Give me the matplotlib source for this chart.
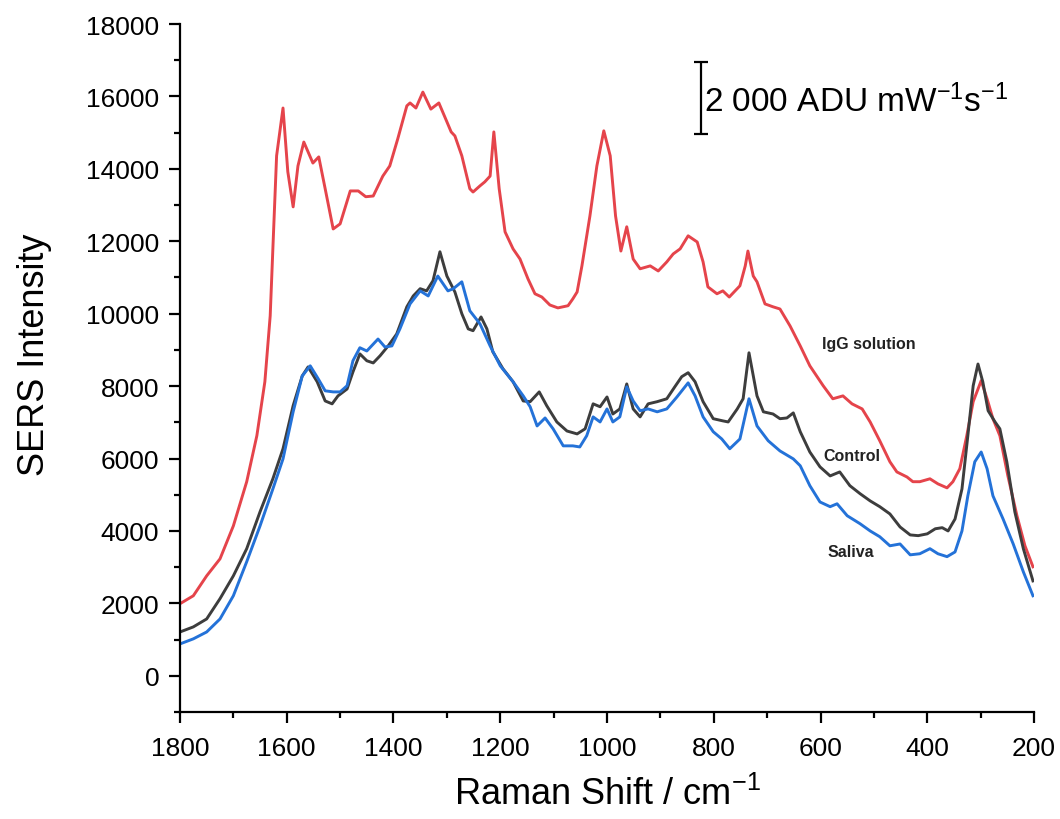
import matplotlib
matplotlib.use("Agg")
from matplotlib import pyplot as plt
from matplotlib.ticker import MultipleLocator

plt.rcParams['font.family'] = ['Liberation Sans', 'DejaVu Sans']

# IgG solution (red)
igg_x = [1800, 1775, 1750, 1725, 1700, 1675, 1656, 1641, 1631, 1626, 1619, 1607, 1598, 1588,
         1579, 1568, 1551, 1540, 1528, 1513, 1500, 1481, 1466, 1452, 1438, 1420, 1407, 1392,
         1375, 1369, 1358, 1345, 1330, 1315, 1300, 1292, 1285, 1272, 1257, 1251, 1238, 1229,
         1219, 1212, 1202, 1191, 1176, 1163, 1148, 1135, 1122, 1107, 1092, 1073, 1064, 1056,
         1047, 1032, 1019, 1006, 994, 984, 974, 963, 951, 938, 919, 904, 888, 876, 863, 848,
         831, 820, 811, 794, 783, 771, 751, 741, 736, 726, 719, 704, 689, 676, 657, 638, 620,
         595, 577, 558, 541, 522, 507, 489, 470, 457, 438, 427, 414, 395, 380, 363, 352, 339,
         326, 314, 299, 288, 277, 264, 249, 232, 217, 202]
igg_y = [1990, 2210, 2760, 3230, 4140, 5360, 6630, 8120, 9940, 11790, 14360, 15680, 13920, 12950,
         14080, 14740, 14160, 14330, 13450, 12340, 12480, 13390, 13390, 13230, 13250, 13800, 14080, 14830,
         15740, 15820, 15680, 16120, 15650, 15820, 15300, 15020, 14910, 14360, 13450, 13360, 13530, 13640,
         13800, 15020, 13450, 12260, 11790, 11510, 10960, 10550, 10460, 10240, 10160, 10220, 10410, 10600,
         11320, 12700, 14080, 15050, 14360, 12700, 11730, 12400, 11510, 11240, 11320, 11180, 11430, 11650, 11790, 12150,
         11980, 11430, 10740, 10550, 10630, 10460, 10770, 11320, 11730, 11040, 10880, 10270, 10190, 10130, 9660, 9110, 8560,
         8010, 7650, 7730, 7510, 7370, 7010, 6490, 5910, 5630, 5490, 5360, 5360, 5440, 5300, 5190, 5360, 5720,
         6630, 7570, 8150, 7650, 7100, 6630, 5520, 4420, 3590, 3010]

# Control (dark grey)
ctrl_x = [1800, 1775, 1750, 1725, 1700, 1675, 1650, 1626, 1607, 1588, 1571, 1560, 1543, 1528,
          1515, 1504, 1487, 1476, 1463, 1450, 1438, 1425, 1410, 1394, 1375, 1363, 1350, 1338,
          1326, 1313, 1300, 1285, 1272, 1260, 1251, 1236, 1225, 1214, 1195, 1176, 1157, 1144,
          1127, 1113, 1094, 1075, 1056, 1041, 1026, 1013, 1000, 989, 976, 963, 951, 938, 923,
          906, 888, 873, 860, 848, 835, 820, 801, 783, 773, 756, 745, 734, 719, 707, 689, 676,
          663, 651, 638, 620, 601, 582, 564, 545, 526, 507, 489, 470, 451, 432, 417, 400, 385,
          372, 361, 348, 335, 324, 314, 305, 296, 286, 273, 264, 251, 236, 220, 202]
ctrl_y = [1210, 1350, 1570, 2130, 2760, 3510, 4530, 5440, 6270, 7460, 8280, 8530, 8120, 7590,
          7510, 7730, 7920, 8390, 8890, 8700, 8640, 8840, 9110, 9440, 10190, 10490, 10690, 10630,
          10910, 11710, 11040, 10600, 10000, 9580, 9530, 9910, 9580, 8950, 8480, 8120, 7590, 7570,
          7840, 7460, 7010, 6760, 6680, 6820, 7510, 7430, 7700, 7230, 7370, 8060, 7370, 7150, 7510,
          7570, 7650, 7980, 8260, 8370, 8120, 7570, 7100, 7040, 7010, 7370, 7650, 8920, 7730, 7290, 7230, 7100,
          7120, 7260, 6740, 6180, 5770, 5520, 5630, 5250, 5030, 4830, 4670, 4470, 4110, 3890, 3870, 3920, 4060,
          4090, 4000, 4330, 5160, 6630, 8010, 8610, 8120, 7320, 7010, 6820, 5910, 4530, 3510, 2620]

# Saliva (blue)
sal_x = [1800, 1775, 1750, 1725, 1700, 1675, 1650, 1626, 1607, 1588, 1571, 1556, 1541, 1528,
         1513, 1500, 1487, 1476, 1463, 1450, 1429, 1416, 1403, 1388, 1369, 1350, 1335, 1317,
         1298, 1288, 1272, 1257, 1238, 1219, 1200, 1176, 1157, 1144, 1131, 1116, 1101, 1082,
         1064, 1051, 1038, 1026, 1013, 1000, 989, 976, 963, 951, 938, 923, 906, 888, 869, 848,
         835, 820, 801, 785, 770, 751, 734, 719, 698, 676, 651, 638, 620, 601, 582, 569, 550,
         526, 507, 489, 470, 451, 432, 414, 395, 380, 363, 348, 335, 324, 311, 299, 288, 277,
         258, 239, 220, 202]
sal_y = [880, 1020, 1210, 1570, 2210, 3150, 4140, 5160, 5990, 7290, 8280, 8560, 8200, 7870,
         7840, 7840, 8010, 8700, 9060, 8970, 9300, 9080, 9110, 9580, 10270, 10630, 10490, 11040,
         10630, 10690, 10880, 10080, 9720, 9110, 8560, 8120, 7730, 7430, 6900, 7120, 6820, 6350,
         6350, 6320, 6630, 7150, 7010, 7370, 7010, 7150, 7980, 7590, 7320, 7370, 7290, 7370, 7700, 8090,
         7730, 7150, 6740, 6540, 6270, 6540, 7650, 6900, 6490, 6210, 5990, 5800, 5250, 4800, 4670, 4750, 4420,
         4200, 4000, 3840, 3590, 3640, 3340, 3370, 3510, 3370, 3290, 3420, 4000, 4970, 5910, 6180, 5720, 4970,
         4330, 3640, 2870, 2210]

series_names = ['IgG solution', 'Control', 'Saliva']
label_pos = [(597, 9170), (595, 6070), (586, 3420)]
scale_bar_x = 824
scale_bar_center = 15950
scale_bar_half = 1000

fig = plt.figure(figsize=(10.6, 8.2), dpi=100)
ax = fig.add_axes([0.1698, 0.1305, 0.8057, 0.839])

ax.plot(igg_x, igg_y, color='#e5444b', lw=2.1, solid_joinstyle='round')
ax.plot(ctrl_x, ctrl_y, color='#3d3d3d', lw=2.1, solid_joinstyle='round')
ax.plot(sal_x, sal_y, color='#2472d8', lw=2.1, solid_joinstyle='round')

for name, (tx, ty) in zip(series_names, label_pos):
    ax.text(tx, ty, name, fontsize=11.5, fontweight='bold', color='#222222',
            ha='left', va='center')

# scale bar
ax.errorbar([scale_bar_x], [scale_bar_center], yerr=[scale_bar_half], color='black',
            lw=1.6, capsize=5, capthick=1.6)
ax.text(scale_bar_x - 6, scale_bar_center - 60,
        '2 000 ADU mW$\\mathregular{^{-1}}$s$\\mathregular{^{-1}}$',
        fontsize=24, ha='left', va='center')

ax.set_xlim(1800, 200)
ax.set_ylim(-1000, 18000)
ax.xaxis.set_major_locator(MultipleLocator(200))
ax.xaxis.set_minor_locator(MultipleLocator(100))
ax.yaxis.set_major_locator(MultipleLocator(2000))
ax.yaxis.set_minor_locator(MultipleLocator(1000))
ax.set_yticks(range(0, 18001, 2000))

for s in ['top', 'right']:
    ax.spines[s].set_visible(False)
for s in ['left', 'bottom']:
    ax.spines[s].set_linewidth(1.6)

ax.tick_params(which='major', direction='out', length=8, width=1.6, labelsize=19, pad=7)
ax.tick_params(which='minor', direction='out', length=4.5, width=1.6)
ax.tick_params(axis='x', pad=9)

ax.set_xlabel('Raman Shift / cm$\\mathregular{^{-1}}$', fontsize=26, labelpad=12)
ax.set_ylabel('SERS Intensity', fontsize=26)
ax.yaxis.set_label_coords(-0.15, 0.52)

plt.savefig('out.png', dpi=100)
